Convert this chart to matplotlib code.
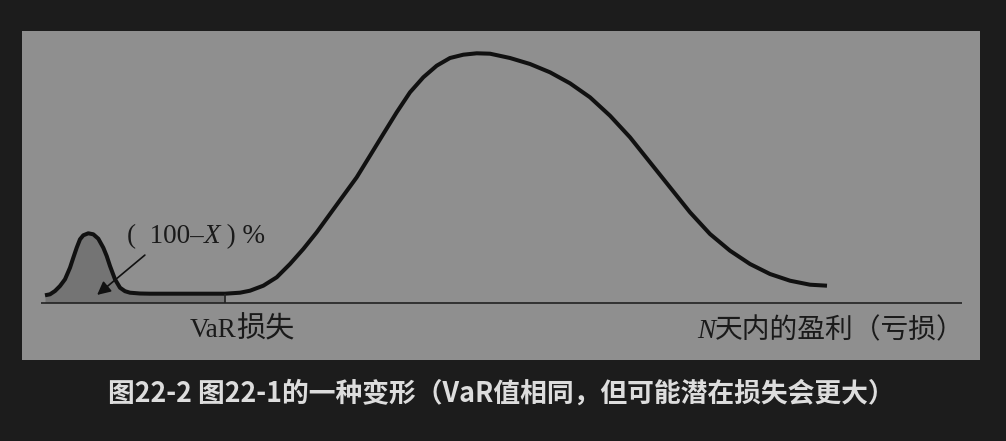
import matplotlib
matplotlib.use('Agg')
import matplotlib.pyplot as plt
from matplotlib.transforms import IdentityTransform
import numpy as np

plt.rcParams['font.family'] = ['Liberation Serif', 'Noto Sans CJK SC']

# profit/loss axis (pixel-like units) and curve height above the baseline
pnl = [45, 50, 55, 60, 65, 70, 73.3, 76.7, 80, 83.3, 88.3, 93.3, 98.3, 103.3,
       106.7, 110, 115, 120, 125, 130, 140, 150, 200, 225, 240, 250, 263.3,
       276.7, 290, 303.3, 316.7, 330, 343.3, 356.7, 370, 383.3, 396.7, 410,
       423.3, 436.7, 450, 463.3, 476.7, 490, 510, 530, 550, 570, 590, 610,
       630, 650, 670, 690, 710, 730, 750, 770, 790, 810, 827]
density = [7.4, 8.4, 11.7, 16.7, 23.4, 35.0, 45.0, 55.0, 63.4, 67.4, 69.4, 68.4,
           64.0, 55.0, 46.7, 36.7, 23.4, 15.0, 11.5, 10.0, 9.2, 9.0, 9.0, 9.0,
           10.0, 12.0, 17.0, 25.4, 38.7, 53.7, 70.4, 88.7, 107.0, 125.4, 147.0,
           168.7, 190.4, 210.4, 225.4, 237.0, 244.7, 248.0, 249.4, 249.0, 244.7,
           238.7, 230.4, 219.4, 205.4, 187.0, 165.4, 140.4, 115.4, 90.4, 68.7,
           52.0, 38.7, 28.7, 22.0, 18.0, 17.0]
var_loss = 225
axis_start, axis_end = 41, 962

W, H = 1006, 441
fig = plt.figure(figsize=(W / 100, H / 100), dpi=100, facecolor='#1c1c1c')
ax = fig.add_axes([22 / W, 81 / H, 958 / W, 329 / H])
ax.set_facecolor('#8f8f8f')
ax.set_xlim(22, 980)
ax.set_ylim(-57.3, 271.7)
for s in ax.spines.values():
    s.set_visible(False)
ax.set_xticks([])
ax.set_yticks([])

x = np.array(pnl)
y = np.array(density)
mask = x <= var_loss
ax.fill_between(x[mask], 0, y[mask], color='#747474', lw=0)
ax.plot(x, y, color='#111111', lw=2.9, solid_capstyle='butt', solid_joinstyle='round')
ax.hlines(0, axis_start, axis_end, color='#222222', lw=1.2)
ax.vlines(var_loss, 0, 8.4, color='#222222', lw=1.2)

ax.annotate('', xy=(95, 6), xytext=(147, 49.4),
            arrowprops=dict(arrowstyle='-|>', lw=1.2, color='#111111', mutation_scale=20))

renderer = fig.canvas.get_renderer()
serif = dict(family=['Liberation Serif'], fontsize=19.5, color='#1a1a1a')
serif_it = dict(family=['Liberation Serif'], style='italic', fontsize=19.5, color='#1a1a1a')
cjk = dict(family=['Noto Sans CJK SC'], fontsize=20, color='#1a1a1a')


def text_run(xp, yp, pieces, align='left'):
    # place pieces side by side, xp/yp in pixels from top-left, yp is the baseline
    items = []
    for s, kw in pieces:
        t = fig.text(0, 0, s, transform=IdentityTransform(), ha='left', va='baseline', **kw)
        items.append((t, t.get_window_extent(renderer).width))
    total = sum(w for _, w in items)
    if align == 'right':
        xp -= total
    elif align == 'center':
        xp -= total / 2
    for t, w in items:
        t.set_position((xp, H - yp))
        xp += w


text_run(127, 243, [('(  100–', serif), ('X', serif_it), (' ) %', serif)])
text_run(242, 337, [('VaR', serif), ('损失', dict(cjk, fontsize=21))], align='center')
text_run(965, 338, [('N', serif_it), ('天内的盈利（亏损）', cjk)], align='right')

fig.text(108 / W, 1 - 394 / H, '图22-2 图22-1的一种变形（VaR值相同，但可能潜在损失会更大）',
         fontsize=19.3, fontweight='bold', color='#dddddd', family=['Noto Sans CJK SC'],
         ha='left', va='center')

fig.savefig('out.png', dpi=100, facecolor=fig.get_facecolor())
